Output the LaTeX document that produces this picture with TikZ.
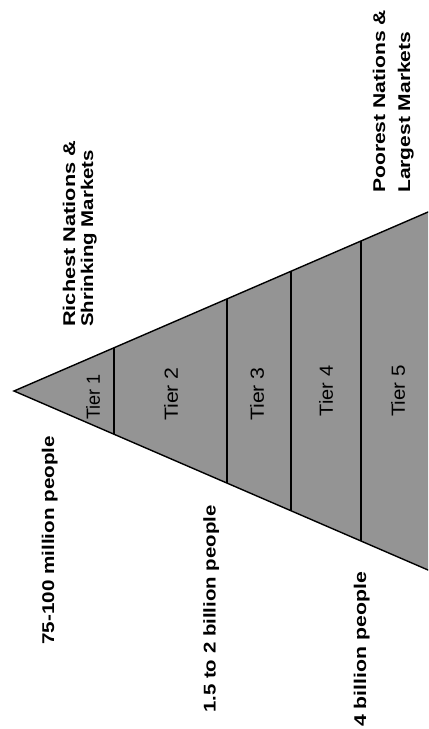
\documentclass[tikz,border=0pt]{standalone}
\usepackage{fontspec}
\setmainfont{Liberation Sans}
\usetikzlibrary{calc}
\definecolor{stipple}{gray}{0.58}
\begin{document}
\begin{tikzpicture}[x=1bp,y=-1bp,
  lab/.style={font=\bfseries\fontsize{17bp}{19bp}\selectfont, inner sep=0pt, rotate=90, anchor=base west},
  tier/.style={font=\fontsize{19bp}{21bp}\selectfont, inner sep=0pt, rotate=90},
  edgeline/.style={line width=1.4bp, black},
  divline/.style={line width=1.2bp, black},
]
\useasboundingbox (0,0) rectangle (428,729);
\coordinate (A) at (14,391);
\coordinate (U) at (450,202.5);
\coordinate (L) at (450,579.5);
\begin{scope}
\clip (0,0) rectangle (428,729);
\fill[stipple] (A) -- (U) -- (L) -- cycle;
\draw[edgeline] (U) -- (A) -- (L);
\foreach \t in {0.2294,0.4885,0.6353,0.7959}{
  \draw[divline] ($(A)!\t!(U)$) -- ($(A)!\t!(L)$);
}
\end{scope}
\node[tier] (t1) at (93,397) {\scalebox{0.95}[1]{Tier 1}};
\node[tier] (t2) at (171,394) {\scalebox{1.12}[1]{Tier 2}};
\node[tier] (t3) at (257,394) {\scalebox{1.12}[1]{Tier 3}};
\node[tier] (t4) at (326,391) {\scalebox{1.05}[1]{Tier 4}};
\node[tier] (t5) at (398,391) {\scalebox{1.08}[1]{Tier 5}};
\node[lab] (rich) at (75,327) {\scalebox{1.28}[1]{Richest Nations \&}};
\node[lab] (shrink) at (93,327) {\scalebox{1.20}[1]{Shrinking Markets}};
\node[lab] (poor) at (385,193) {\scalebox{1.24}[1]{Poorest Nations \&}};
\node[lab] (large) at (410,193) {\scalebox{1.235}[1]{Largest Markets}};
\node[lab] (p1) at (54,645) {\scalebox{1.215}[1]{75-100 million people}};
\node[lab] (p2) at (215.5,713) {\scalebox{1.20}[1]{1.5 to 2 billion people}};
\node[lab] (p3) at (366,727) {\scalebox{1.25}[1]{4 billion people}};
\end{tikzpicture}
\end{document}
